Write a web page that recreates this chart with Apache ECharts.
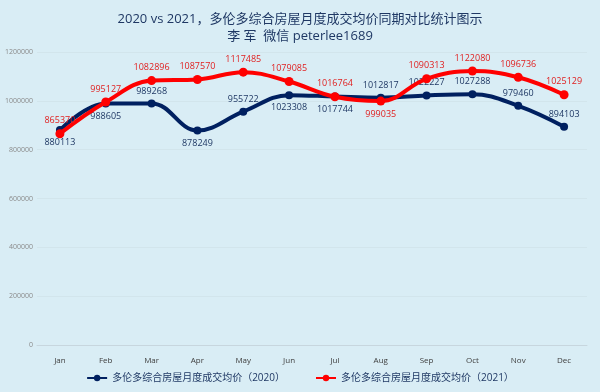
<!DOCTYPE html>
<html><head><meta charset="utf-8">
<script src="https://cdn.jsdelivr.net/npm/echarts@6/dist/echarts.min.js"></script>
<style>html,body{margin:0;padding:0;background:#d9edf5}#c{width:600px;height:392px}</style>
</head><body><div id="c"></div>
<script>
const months = ['Jan','Feb','Mar','Apr','May','Jun','Jul','Aug','Sep','Oct','Nov','Dec'];
const values2020 = [880113, 988605, 989268, 878249, 955722, 1023308, 1017744, 1012817, 1022227, 1027288, 979460, 894103];
const values2021 = [865370, 995127, 1082896, 1087570, 1117485, 1079085, 1016764, 999035, 1090313, 1122080, 1096736, 1025129];
const yTicks = [0, 200000, 400000, 600000, 800000, 1000000, 1200000];
const name2020 = '多伦多综合房屋月度成交均价（2020）';
const name2021 = '多伦多综合房屋月度成交均价（2021）';

const pos2020 = ['bottom','bottom','top','bottom','top','bottom','bottom','top','top','top','top','top'];
const pos2021 = ['top','top','top','top','top','top','top','bottom','top','top','top','top'];

const font = '"Open Sans","Noto Sans CJK SC",sans-serif';
const chart = echarts.init(document.getElementById('c'));
chart.setOption({
  backgroundColor: '#d9edf5',
  textStyle: {fontFamily: font},
  title: {
    text: '2020 vs 2021，多伦多综合房屋月度成交均价同期对比统计图示',
    subtext: '李 军  微信 peterlee1689',
    left: 'center', top: 8, itemGap: 4,
    textStyle: {color: '#1f3864', fontSize: 13, fontWeight: 'normal', fontFamily: font},
    subtextStyle: {color: '#1f3864', fontSize: 13, fontFamily: font}
  },
  legend: {
    bottom: 4, left: 'center', itemWidth: 20, itemHeight: 8, itemGap: 30,
    textStyle: {color: '#1f3864', fontSize: 10, fontFamily: font},
    data: [name2020, name2021]
  },
  grid: {left: 37, right: 13, top: 52, bottom: 47},
  xAxis: {
    type: 'category', data: months, boundaryGap: true,
    axisLine: {lineStyle: {color: '#c7d6de'}},
    axisTick: {show: false},
    axisLabel: {color: '#404040', fontSize: 8, margin: 12}
  },
  yAxis: {
    type: 'value', min: yTicks[0], max: yTicks[yTicks.length-1], interval: 200000,
    axisLine: {show: false}, axisTick: {show: false},
    axisLabel: {color: '#8a8a8a', fontSize: 7, margin: 4, formatter: v => String(v)},
    splitLine: {lineStyle: {color: '#d2e5ec'}}
  },
  series: [
    {
      name: name2020, type: 'line', smooth: 0.4,
      data: values2020.map((v,i)=>({value:v, label:{position:pos2020[i]}})),
      symbol: 'circle', symbolSize: 8,
      lineStyle: {width: 4, color: '#002060'},
      itemStyle: {color: '#002060'},
      label: {show: true, color: '#1f3864', fontSize: 9, distance: 4},
      z: 2
    },
    {
      name: name2021, type: 'line', smooth: 0.4,
      data: values2021.map((v,i)=>({value:v, label:{position:pos2021[i]}})),
      symbol: 'circle', symbolSize: 9,
      lineStyle: {width: 4, color: '#ff0000'},
      itemStyle: {color: '#ff0000'},
      label: {show: true, color: '#e02020', fontSize: 9, distance: 4},
      z: 3
    }
  ]
});
</script></body></html>
